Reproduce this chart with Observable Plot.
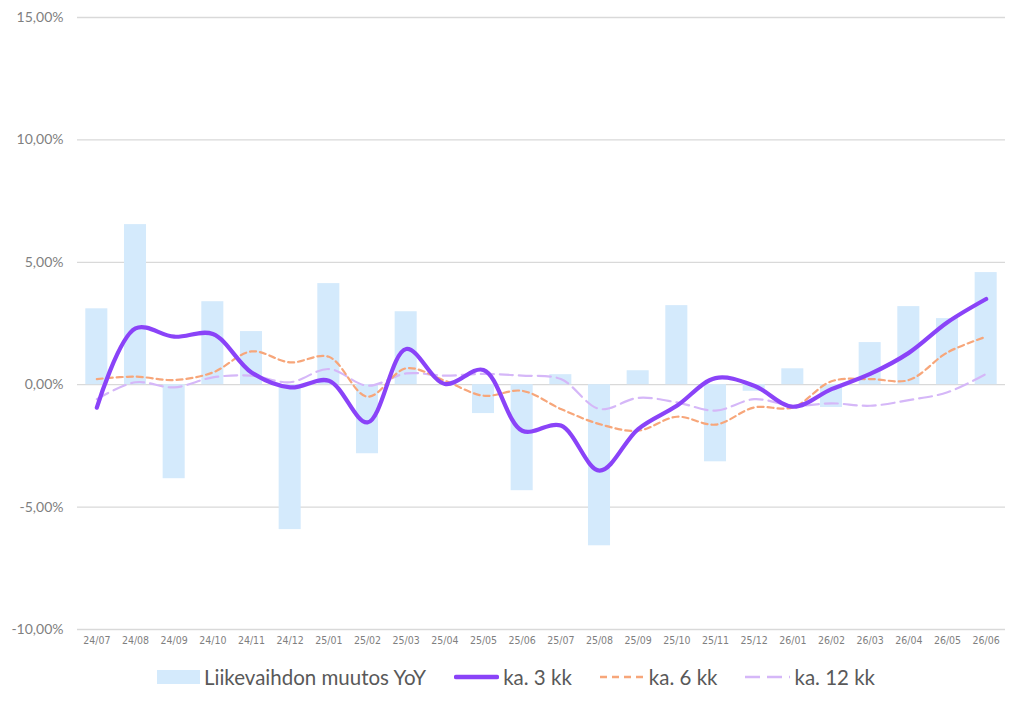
<!DOCTYPE html>
<html>
<head>
<meta charset="utf-8">
<script src="https://cdn.jsdelivr.net/npm/d3@7"></script>
<script src="https://cdn.jsdelivr.net/npm/@observablehq/plot@0.6"></script>
<style>
  html, body { margin: 0; padding: 0; background: #fff; }
  #chart { width: 1024px; }
  .legend { display: flex; justify-content: center; align-items: center; font-family: Lato, "Open Sans", sans-serif; font-size: 20.5px; color: #595959; height: 30px; margin-top: 0px; padding-left: 8px; }
  .legend .item { display: flex; align-items: center; margin: 0 14px; }
  .legend svg { margin-right: 4px; }
</style>
</head>
<body>
<div id="chart"></div>
<script>
const months = ["24/07","24/08","24/09","24/10","24/11","24/12","25/01","25/02","25/03","25/04","25/05","25/06","25/07","25/08","25/09","25/10","25/11","25/12","26/01","26/02","26/03","26/04","26/05","26/06"];
const yoy   = [3.10, 6.54, -3.84, 3.39, 2.17, -5.92, 4.13, -2.82, 2.98, 0.00, -1.18, -4.33, 0.41, -6.58, 0.57, 3.23, -3.15, -0.27, 0.65, -0.93, 1.72, 3.19, 2.70, 4.58];
const avg3  = [-0.94, 2.30, 1.96, 2.07, 0.50, -0.11, 0.16, -1.54, 1.46, 0.03, 0.60, -1.88, -1.67, -3.51, -1.81, -0.86, 0.27, -0.04, -0.90, -0.18, 0.44, 1.30, 2.55, 3.50];
const avg6  = [0.23, 0.33, 0.19, 0.50, 1.36, 0.91, 1.14, -0.49, 0.67, 0.16, -0.45, -0.25, -0.99, -1.61, -1.88, -1.31, -1.63, -0.93, -0.93, 0.14, 0.23, 0.19, 1.32, 1.96];
const avg12 = [-0.59, 0.10, -0.11, 0.30, 0.37, 0.10, 0.64, -0.04, 0.46, 0.37, 0.44, 0.37, 0.23, -0.99, -0.54, -0.72, -1.06, -0.59, -0.86, -0.76, -0.86, -0.63, -0.31, 0.44];
const yTicks = [-10, -5, 0, 5, 10, 15];
const seriesNames = ["Liikevaihdon muutos YoY", "ka. 3 kk", "ka. 6 kk", "ka. 12 kk"];

const colors = { bar: "#d4eafc", a3: "#8a43f8", a6: "#f7a67a", a12: "#d5b7f8" };

const rows = months.map((m, i) => ({ m, yoy: yoy[i], a3: avg3[i], a6: avg6[i], a12: avg12[i] }));
const fmt = v => v.toFixed(2).replace(".", ",") + "%";

const plot = Plot.plot({
  width: 1024,
  height: 662,
  marginLeft: 77,
  marginRight: 19,
  marginTop: 17,
  marginBottom: 33,
  style: { fontFamily: "Lato, 'Open Sans', sans-serif", background: "#fff" },
  x: { domain: months, paddingInner: 0.43, paddingOuter: 0.215, round: false, label: null, tickSize: 0, tickPadding: 6 },
  y: { domain: [-10, 15], ticks: yTicks, label: null, tickSize: 0 },
  marks: [
    Plot.ruleY(yTicks, { stroke: "#d9d9d9", strokeWidth: 1.3 }),
    Plot.barY(rows, { x: "m", y: "yoy", fill: colors.bar }),
    Plot.lineY(rows, { x: "m", y: "a12", stroke: colors.a12, strokeWidth: 2.2, strokeDasharray: "13,6", curve: "catmull-rom" }),
    Plot.lineY(rows, { x: "m", y: "a6", stroke: colors.a6, strokeWidth: 2.2, strokeDasharray: "6,4", curve: "catmull-rom" }),
    Plot.lineY(rows, { x: "m", y: "a3", stroke: colors.a3, strokeWidth: 4.2, curve: "catmull-rom", strokeLinecap: "round" }),
    Plot.axisY({ ticks: yTicks, tickFormat: fmt, tickSize: 0, tickPadding: 14, fontSize: 14, fill: "#7f7f7f", label: null }),
    Plot.axisX({ tickSize: 0, tickPadding: 7, fontSize: 10.5, fill: "#7f7f7f", label: null, fontFamily: "'DejaVu Sans Condensed', sans-serif" })
  ]
});
document.getElementById("chart").appendChild(plot);

const legend = document.createElement("div");
legend.className = "legend";
const swatches = [
  `<svg width="43" height="16"><rect x="0" y="1" width="43" height="14" fill="${colors.bar}"/></svg>`,
  `<svg width="45" height="16"><line x1="2" y1="8" x2="43" y2="8" stroke="${colors.a3}" stroke-width="4.5" stroke-linecap="round"/></svg>`,
  `<svg width="45" height="16"><line x1="0" y1="8" x2="45" y2="8" stroke="${colors.a6}" stroke-width="2.5" stroke-dasharray="7,5"/></svg>`,
  `<svg width="45" height="16"><line x1="0" y1="8" x2="45" y2="8" stroke="${colors.a12}" stroke-width="2.5" stroke-dasharray="15,7"/></svg>`
];
seriesNames.forEach((name, i) => {
  const it = document.createElement("div");
  it.className = "item";
  it.innerHTML = swatches[i] + `<span>${name}</span>`;
  legend.appendChild(it);
});
document.getElementById("chart").appendChild(legend);
</script>
</body>
</html>
